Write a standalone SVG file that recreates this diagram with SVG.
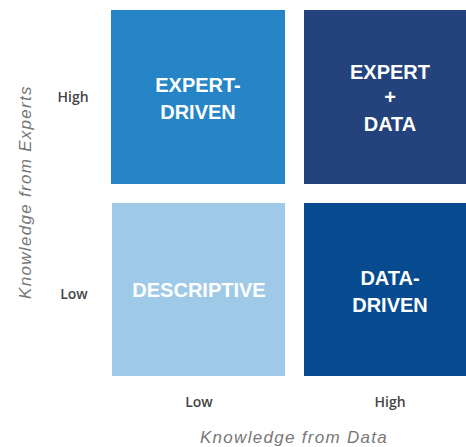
<svg xmlns="http://www.w3.org/2000/svg" width="466" height="447" viewBox="0 0 466 447">
<style>
.box{stroke:none}
.t{font-family:"Liberation Sans",Arial,sans-serif;font-weight:bold;font-size:20px;fill:#ffffff;text-anchor:middle}
.lv{font-family:"Open Sans","Liberation Sans",Arial,sans-serif;font-size:14px;fill:#444444;text-anchor:middle;font-weight:600}
.ax{font-family:"Liberation Sans",Arial,sans-serif;font-style:italic;font-size:17px;letter-spacing:1.3px;fill:#777777;text-anchor:middle}
</style>
<rect width="466" height="447" fill="#ffffff"/>
<g id="expert-driven">
<rect class="box" x="111" y="10" width="174" height="174" fill="#2585C7"/>
<text class="t" x="198" y="92">EXPERT-</text>
<text class="t" x="198" y="119">DRIVEN</text>
</g>
<g id="expert-data">
<rect class="box" x="304" y="10" width="162" height="174" fill="#24427C"/>
<text class="t" x="390" y="79">EXPERT</text>
<text class="t" x="390" y="104">+</text>
<text class="t" x="390" y="131">DATA</text>
</g>
<g id="descriptive">
<rect class="box" x="112" y="203" width="173" height="173" fill="#9ECAE8"/>
<text class="t" x="199" y="297">DESCRIPTIVE</text>
</g>
<g id="data-driven">
<rect class="box" x="304" y="203" width="162" height="173" fill="#064A8F"/>
<text class="t" x="390" y="285">DATA-</text>
<text class="t" x="390" y="312">DRIVEN</text>
</g>
<g id="connectors"/>
<g id="labels">
<text class="lv" x="73" y="102">High</text>
<text class="lv" x="74" y="299">Low</text>
<text class="lv" x="199" y="407">Low</text>
<text class="lv" x="390" y="407">High</text>
<text class="ax" x="294" y="443">Knowledge from Data</text>
<text class="ax" transform="translate(31,192) rotate(-90)" x="0" y="0">Knowledge from Experts</text>
</g>
</svg>
